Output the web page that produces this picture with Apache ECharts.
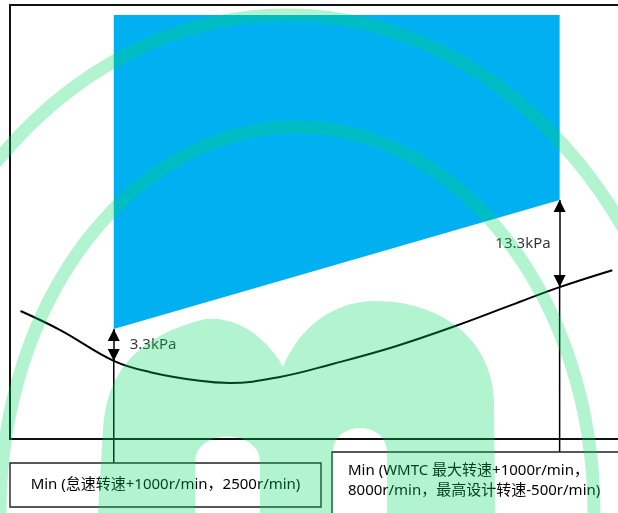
<!DOCTYPE html>
<html><head><meta charset="utf-8">
<script src="https://cdn.jsdelivr.net/npm/echarts@6/dist/echarts.min.js"></script>
<style>html,body{margin:0;padding:0;background:#fff}#c{width:618px;height:513px}</style>
</head><body><div id="c"></div>
<script>
// Engine speed (r/min) and schematic pressure level (relative units)
const curveSpeeds = [1350, 1840, 2500, 2950, 3560, 3930, 4550, 5200, 5950, 6680, 7410, 8000, 8650];
const curveValues = [29.5, 25.1, 18.0, 15.4, 13.4, 12.9, 14.3, 17.3, 21.2, 25.8, 30.9, 35.0, 38.9];
const checkSpeeds = [2500, 8000];
const zoneTop = [97.7, 97.7];
const zoneBottom = [25.35, 55.07];
const gapLabels = ['3.3kPa', '13.3kPa'];
const boxTexts = ['Min (怠速转速+1000r/min，2500r/min)', 'Min (WMTC 最大转速+1000r/min，\n8000r/min，最高设计转速-500r/min)'];
const boxTopValues = [-5.5, -3.0];

const FONT = '"Noto Sans", "Noto Sans CJK SC", sans-serif';
const curveAt = s => curveValues[curveSpeeds.indexOf(s)];

const chart = echarts.init(document.getElementById('c'), null, {renderer: 'canvas'});

const series = [];
// blue zone
series.push({
  type: 'custom', z: 1, silent: true,
  data: [[checkSpeeds[0], zoneTop[0]]],
  renderItem: (params, api) => {
    const pts = [
      [checkSpeeds[0], zoneTop[0]], [checkSpeeds[1], zoneTop[1]],
      [checkSpeeds[1], zoneBottom[1]], [checkSpeeds[0], zoneBottom[0]]
    ].map(p => api.coord(p));
    return {type: 'polygon', shape: {points: pts}, style: {fill: '#00B0F0'}};
  }
});
// curve with gap arrows
series.push({
  type: 'line', z: 3, silent: true, smooth: 0.4, symbol: 'none',
  data: curveSpeeds.map((s, i) => [s, curveValues[i]]),
  lineStyle: {color: '#000', width: 2},
  markLine: {
    silent: true, animation: false,
    symbol: ['triangle', 'triangle'], symbolSize: [12, 12], symbolOffset: [[0, 6], [0, 6]],
    label: {show: false},
    lineStyle: {color: '#000', width: 1.5, type: 'solid'},
    emphasis: {disabled: true},
    data: checkSpeeds.map((s, i) => [{coord: [s, zoneBottom[i]]}, {coord: [s, curveAt(s)]}])
  }
});
// leader lines down to the boxes
checkSpeeds.forEach((s, i) => {
  series.push({
    type: 'line', z: 2, silent: true, clip: false, symbol: 'none',
    data: [[s, curveAt(s)], [s, boxTopValues[i]]],
    lineStyle: {color: '#000', width: 1.5}
  });
});
// gap labels
series.push({
  type: 'scatter', z: 4, silent: true, symbolSize: 0,
  data: checkSpeeds.map((s, i) => ({
    value: [s, (zoneBottom[i] + curveAt(s)) / 2],
    label: {position: i === 0 ? 'right' : 'left', distance: i === 0 ? 16 : 9, formatter: gapLabels[i]}
  })),
  label: {show: true, color: '#000', fontSize: 15, fontFamily: FONT}
});

// watermark outline sampled from a bezier path description
function samplePath(cmds) {
  const pts = [];
  let cur = null;
  cmds.forEach(c => {
    if (c[0] === 'M' || c[0] === 'L') { cur = [c[1], c[2]]; pts.push(cur); }
    else if (c[0] === 'C') {
      const [x0, y0] = cur;
      for (let k = 1; k <= 16; k++) {
        const t = k / 16, u = 1 - t;
        const x = u*u*u*x0 + 3*u*u*t*c[1] + 3*u*t*t*c[3] + t*t*t*c[5];
        const y = u*u*u*y0 + 3*u*u*t*c[2] + 3*u*t*t*c[4] + t*t*t*c[6];
        pts.push([x, y]);
      }
      cur = [c[5], c[6]];
    }
  });
  return pts;
}
const mShape = samplePath([
  ['M', 98, 513], ['L', 103, 430], ['C', 106, 370, 140, 335, 205, 319], ['C', 240, 316, 268, 340, 283, 367],
  ['C', 300, 325, 335, 302, 373, 301], ['C', 430, 300, 490, 330, 494, 400], ['L', 495, 513],
  ['L', 387, 513], ['L', 387, 452], ['C', 387, 420, 333, 420, 333, 452], ['L', 333, 513],
  ['L', 260, 513], ['L', 260, 462], ['C', 260, 428, 195, 428, 195, 462], ['L', 195, 513]
]);

const wm = 'rgba(0,215,98,0.3)';
chart.setOption({
  animation: false,
  grid: {left: 10, top: 5, right: 0, bottom: 74, show: false},
  xAxis: {type: 'value', min: 1220, max: 8720, show: false},
  yAxis: {type: 'value', min: 0, max: 100, show: false},
  series: series,
  graphic: [
    {type: 'polyline', z: 4, silent: true, shape: {points: [[630, 5], [10, 5], [10, 439], [630, 439]]}, style: {stroke: '#111', lineWidth: 2, fill: null}},
    {type: 'rect', z: 5, shape: {x: 10, y: 463, width: 311, height: 44}, style: {fill: '#fff', stroke: '#222', lineWidth: 1.4}},
    {type: 'text', z: 6, x: 165.5, y: 485, style: {text: boxTexts[0], fill: '#000', font: '15px ' + FONT, align: 'center', verticalAlign: 'middle'}},
    {type: 'rect', z: 5, shape: {x: 332, y: 452, width: 300, height: 70}, style: {fill: '#fff', stroke: '#222', lineWidth: 1.4}},
    {type: 'text', z: 6, x: 348, y: 461, style: {text: boxTexts[1], fill: '#000', font: '15px ' + FONT, lineHeight: 20, align: 'left', verticalAlign: 'top'}},
    // watermark
    {type: 'ellipse', z: 100, silent: true, shape: {cx: 287, cy: 513, rx: 410, ry: 498}, style: {fill: 'none', stroke: wm, lineWidth: 13}},
    {type: 'ellipse', z: 100, silent: true, shape: {cx: 297, cy: 513, rx: 297, ry: 386}, style: {fill: 'none', stroke: wm, lineWidth: 13}},
    {type: 'polygon', z: 100, silent: true, shape: {points: mShape}, style: {fill: wm}}
  ]
});
</script></body></html>
